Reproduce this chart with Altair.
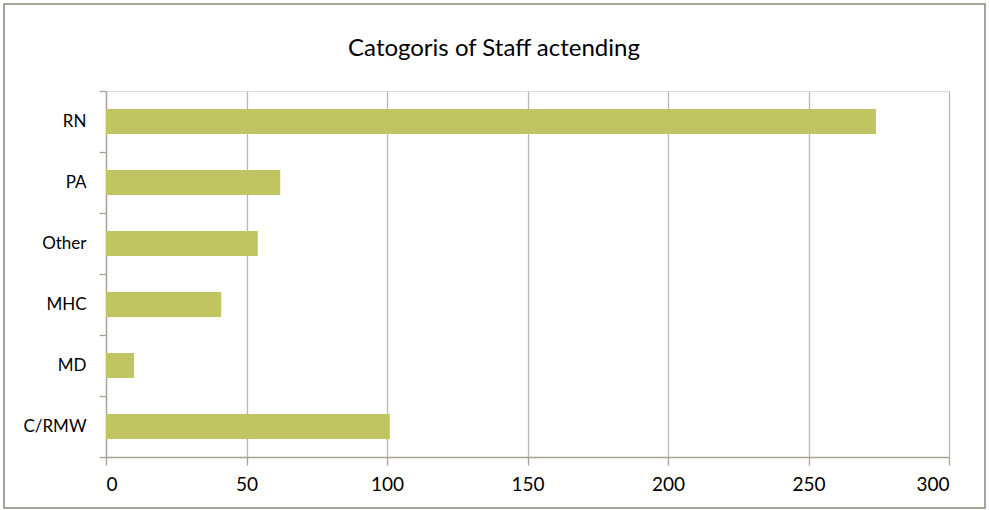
import altair as alt
import pandas as pd

categories = ["RN", "PA", "Other", "MHC", "MD", "C/RMW"]
values = [274, 62, 54, 41, 10, 101]
x_ticks = [0, 50, 100, 150, 200, 250, 300]
title_text = "Catogoris of Staff actending"

df = pd.DataFrame({"category": categories, "count": values})

FONT = "Lato"
W, H = 843, 366

bars = alt.Chart(df).mark_bar(color="#C0C562", height=alt.RelativeBandSize(0.41)).encode(
    x=alt.X("count:Q",
            scale=alt.Scale(domain=[0, 300], nice=False),
            axis=alt.Axis(values=x_ticks, title=None, grid=True,
                          gridColor="#BDB8AE", gridWidth=1.3,
                          domainColor="#A8A298", domainWidth=1.3,
                          tickColor="#A8A298", tickWidth=1.3, tickSize=8,
                          labelFont=FONT, labelFontSize=19, labelColor="#000000",
                          labelPadding=10)),
    y=alt.Y("category:N", sort=categories,
            scale=alt.Scale(paddingInner=0, paddingOuter=0),
            axis=alt.Axis(title=None, tickBand="extent", grid=False,
                          domainColor="#A8A298", domainWidth=1.3,
                          tickColor="#A8A298", tickWidth=1.3, tickSize=7,
                          labelFont=FONT, labelFontSize=17, labelColor="#000000",
                          labelPadding=13)),
)

frame = pd.DataFrame({"a": [0]})

border = alt.Chart(frame).mark_rect(
    fill=None, stroke="#8C877C", strokeWidth=1.5, clip=False
).encode(
    x=alt.value(-102), x2=alt.value(879),
    y=alt.value(-87), y2=alt.value(417),
)

title = alt.Chart(pd.DataFrame({"t": [title_text]})).mark_text(
    font=FONT, fontSize=24, color="#000000", align="center", baseline="middle", clip=False
).encode(
    text="t:N", x=alt.value(388), y=alt.value(-42),
)

chart = alt.layer(border, bars, title).properties(
    width=W, height=H,
    padding={"left": 106, "top": 91, "right": 40, "bottom": 53},
    autosize=alt.AutoSizeParams(type="none"),
).configure_view(stroke=None).configure(background="white")

chart.save("out.html", embed_options={"renderer": "svg", "actions": False})
